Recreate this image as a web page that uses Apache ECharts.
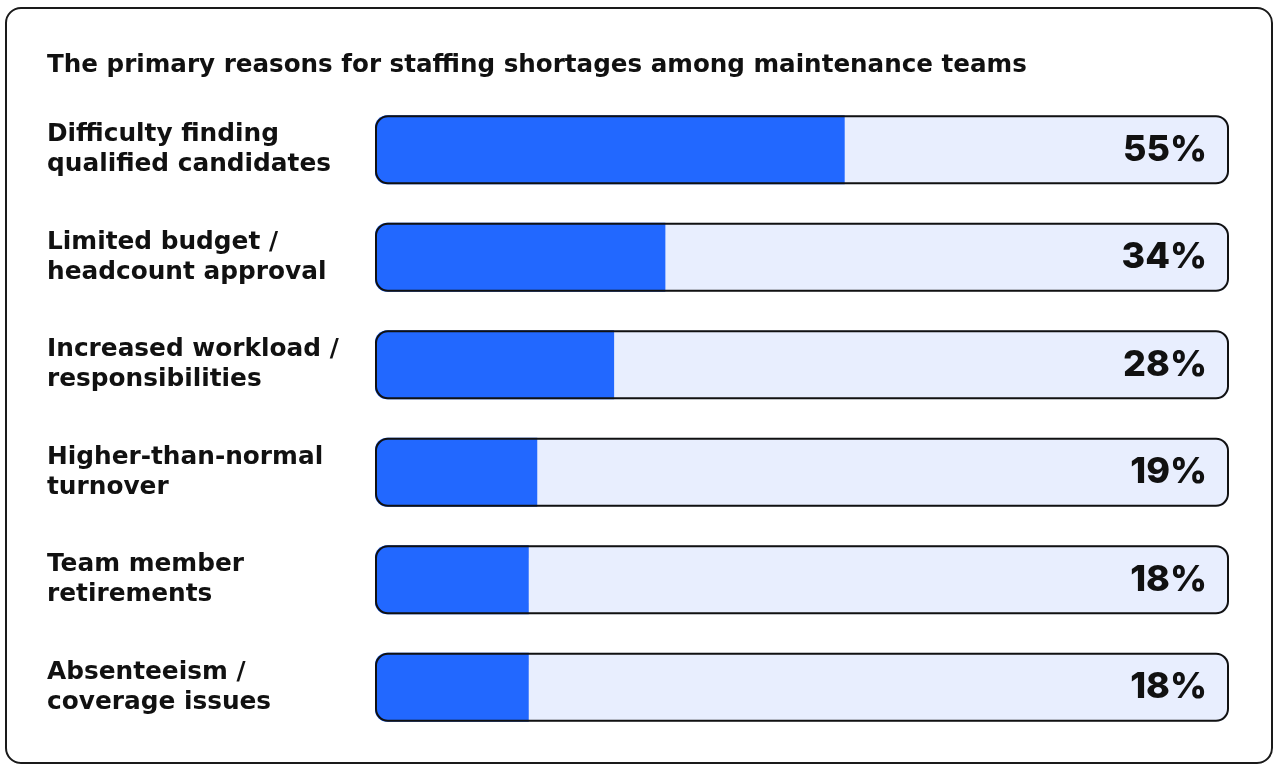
<!DOCTYPE html>
<html>
<head>
<meta charset="utf-8">
<title>Staffing shortages</title>
<script src="https://cdn.jsdelivr.net/npm/echarts@6/dist/echarts.min.js"></script>
<style>
  html, body { margin: 0; padding: 0; background: #fff; }
  #frame {
    position: absolute; left: 5px; top: 7px; width: 1264px; height: 753px;
    border: 2px solid #1a1a1a; border-radius: 16px; box-sizing: content-box;
  }
  #main { position: absolute; left: 0; top: 0; width: 1280px; height: 769px; }
</style>
</head>
<body>
<div id="frame"></div>
<div id="main"></div>
<script>
var titleText = 'The primary reasons for staffing shortages among maintenance teams';

var categories = [
  'Difficulty finding\nqualified candidates',
  'Limited budget /\nheadcount approval',
  'Increased workload /\nresponsibilities',
  'Higher-than-normal\nturnover',
  'Team member\nretirements',
  'Absenteeism /\ncoverage issues'
];

var values = [55, 34, 28, 19, 18, 18];

var fullTrack = categories.map(function () { return 100; });

var wideFont = '"DejaVu Sans", sans-serif';
var numFont = 'Inter, "Noto Sans", sans-serif';

var myChart = echarts.init(document.getElementById('main'));

var option = {
  animation: false,
  title: {
    text: titleText,
    left: 42,
    top: 48,
    textStyle: { fontFamily: wideFont, fontSize: 24.6, fontWeight: 'bold', color: '#111' }
  },
  grid: { left: 375, right: 51, top: 96, bottom: 28 },
  xAxis: {
    type: 'value', min: 0, max: 100, show: false
  },
  yAxis: {
    type: 'category',
    data: categories,
    inverse: true,
    axisLine: { show: false },
    axisTick: { show: false },
    axisLabel: {
      align: 'left',
      margin: 328,
      padding: [4, 0, 0, 0],
      fontFamily: wideFont,
      fontSize: 24.8,
      fontWeight: 'bold',
      lineHeight: 30,
      color: '#111'
    }
  },
  series: [
    {
      // light track behind
      type: 'bar',
      data: fullTrack,
      barWidth: 69,
      barGap: '-100%',
      silent: true,
      itemStyle: { color: '#E8EEFE', borderRadius: 12 },
      z: 1
    },
    {
      type: 'bar',
      data: values,
      barWidth: 69,
      barGap: '-100%',
      itemStyle: { color: '#2268FF', borderRadius: [12, 0, 0, 12] },
      z: 2
    },
    {
      // outline + value label on top
      type: 'bar',
      data: fullTrack,
      barWidth: 69,
      barGap: '-100%',
      silent: true,
      itemStyle: { color: 'rgba(0,0,0,0)', borderColor: '#111', borderWidth: 2, borderRadius: 12 },
      label: {
        show: true,
        position: 'insideRight',
        distance: 22,
        formatter: function (p) { return values[p.dataIndex] + '%'; },
        fontFamily: numFont,
        fontSize: 36,
        fontWeight: 800,
        color: '#111'
      },
      z: 3
    }
  ]
};

myChart.setOption(option);
</script>
</body>
</html>
